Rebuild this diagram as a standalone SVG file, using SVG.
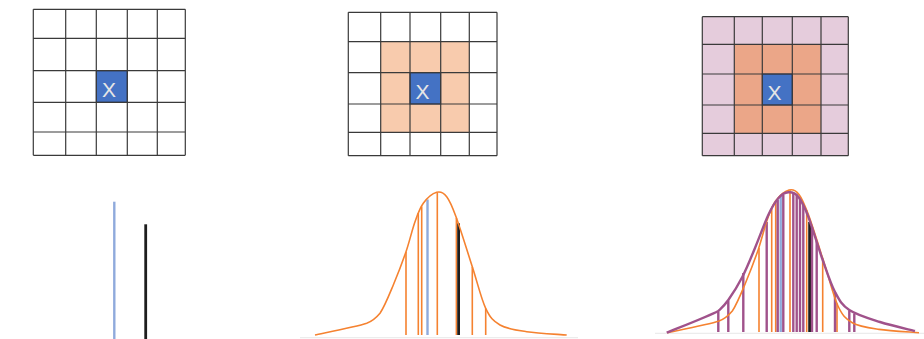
<svg xmlns="http://www.w3.org/2000/svg" width="924" height="339" viewBox="0 0 924 339">
<style>
.grid{fill:none;stroke:#3a3a3a;stroke-width:1.2}
.cell{fill:#4472C4;stroke:#1f2f55;stroke-width:1}
.x{font-family:"Liberation Sans",Arial,sans-serif;font-size:21px;fill:#e6e6e6;text-anchor:middle}
.or{stroke:#F58230;stroke-width:1.6;fill:none}
.pu{stroke:#A0528B;stroke-width:2.4;fill:none}
.bl{stroke:#8FAADC;stroke-width:2.4}
.bk{stroke:#1e1e1e;stroke-width:2.8}
.base{stroke:#ececec;stroke-width:1.2}
</style>
<defs>
<path id="bell" d="M315,335 C323.6,333.1 355.9,326.9 366.7,323.3 C373,321 376.5,317.5 380,313.3 C384.4,306.9 389,295.3 393.3,285 C397.6,274.7 402.4,262.2 406,251.7 C409.6,241.2 412.1,229.8 415,221.7 C417.9,213.6 419.7,208.2 423.3,203.3 C426.9,198.4 432.8,193.4 436.7,192.3 C440.6,191.2 443.5,192.6 446.7,196.7 C449.9,200.8 451.7,205 456,216.7 C460.3,228.4 467.4,251.4 472.3,266.7 C477.3,282 481.1,298.6 485.7,308.3 C490.3,318 493.2,321.1 500,325 C506.8,328.9 515.6,330 526.7,331.7 C537.8,333.4 560,334.4 566.7,335"/>
</defs>
<rect width="924" height="339" fill="#ffffff"/>
<g id="grid1">
<rect x="33.3" y="9.3" width="152" height="146" fill="#ffffff"/>
<rect class="cell" x="96.3" y="70.7" width="31" height="31.6"/>
<path class="grid" d="M33.3,9.3V155.3M65.7,9.3V155.3M96.3,9.3V155.3M127.3,9.3V155.3M157.3,9.3V155.3M185.3,9.3V155.3M33.3,9.3H185.3M33.3,38.3H185.3M33.3,70.7H185.3M33.3,102.3H185.3M33.3,132H185.3M33.3,155.3H185.3"/>
<text class="x" x="109" y="96.7">X</text>
</g>
<g id="grid2">
<rect x="348.3" y="12.3" width="148.7" height="143.4" fill="#ffffff"/>
<rect x="380.7" y="41.7" width="88.6" height="90.6" fill="#F8CBAD"/>
<rect class="cell" x="410" y="72.7" width="30.7" height="31.3"/>
<path class="grid" d="M348.3,12.3V155.7M380.7,12.3V155.7M410,12.3V155.7M440.7,12.3V155.7M469.3,12.3V155.7M497,12.3V155.7M348.3,12.3H497M348.3,41.7H497M348.3,72.7H497M348.3,104H497M348.3,132.3H497M348.3,155.7H497"/>
<text class="x" x="422.5" y="99.3">X</text>
</g>
<g id="grid3">
<rect x="702.3" y="16.7" width="146" height="139" fill="#E5CCDC"/>
<rect x="734.3" y="44.3" width="86.7" height="89" fill="#EBA688"/>
<rect class="cell" x="762.3" y="74" width="30" height="31"/>
<path class="grid" d="M702.3,16.7V155.7M734.3,16.7V155.7M762.3,16.7V155.7M792.3,16.7V155.7M821,16.7V155.7M848.3,16.7V155.7M702.3,16.7H848.3M702.3,44.3H848.3M702.3,74H848.3M702.3,105H848.3M702.3,133.3H848.3M702.3,155.7H848.3"/>
<text class="x" x="774.5" y="100.2">X</text>
</g>
<g id="plot1">
<line class="bl" x1="114.3" y1="201.7" x2="114.3" y2="339"/>
<line class="bk" x1="145.7" y1="224.3" x2="145.7" y2="339"/>
</g>
<g id="plot2">
<line class="base" x1="300" y1="337.7" x2="578" y2="337.7"/>
<path class="or" d="M406,335V252M418.3,335V213M421.7,335V206.5M437.3,335V192.5M456.4,335V218M472.3,335V267M485.7,335V308.5"/>
<line class="bl" x1="427.5" y1="335" x2="427.5" y2="199.5"/>
<line class="bk" x1="458.6" y1="335" x2="458.6" y2="223.3"/>
<use href="#bell" class="or"/>
</g>
<g id="plot3">
<line class="base" x1="655" y1="333.3" x2="924" y2="333.3"/>
<path class="or" d="M759,332V248M771.7,332V208.5M775.7,332V201.5M790,332V190.3M806.7,332V210M822.7,332V258.5M837,332V303.5"/>
<line class="bl" x1="780.7" y1="332" x2="780.7" y2="196"/>
<line class="bk" x1="809.6" y1="332" x2="809.6" y2="222"/>
<path class="pu" d="M718.3,332V311.5M728.3,332V300.5M743.3,332V273M766.7,332V222M777.7,332V200M783.3,332V195M793.3,332V193M796.7,332V194.5M800,332V199M803.3,332V205M812,332V227M816.7,332V241M835,332V292.5M849.3,332V310.5M854.3,332V313.5"/>
<use href="#bell" class="or" transform="translate(352.3,-2.3)"/>
<path class="pu" d="M666.7,332.7 C675.3,329.1 708,316.5 718.3,311 C722,307.5 724.3,305.7 728.3,300 C732.3,294.3 737.9,285.7 742.3,277 C746.8,268.3 750.7,258.3 755,248 C759.3,237.7 764.4,223.3 768.3,215 C772.2,206.7 775,202.1 778.3,198.3 C781.6,194.5 785,192.6 788.3,192.3 C791.6,192 795,192.6 798.3,196.7 C801.6,200.8 804.4,206.5 808.3,216.7 C812.2,226.9 817.6,245.5 822,258 C826.5,270.6 830.5,283.3 835,292 C839.6,300.7 841.8,305 849.3,310 C856.8,315 869,318.5 880,322 C891,325.5 909.2,329.5 915,331"/>
</g>
</svg>
